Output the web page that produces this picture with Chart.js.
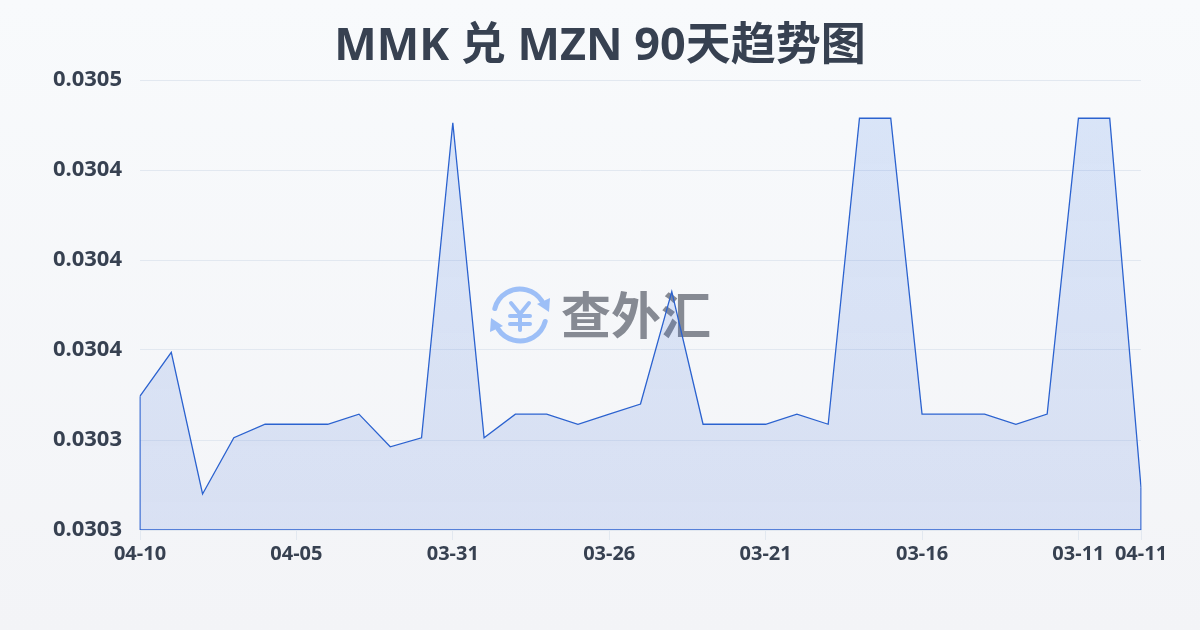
<!DOCTYPE html>
<html><head><meta charset="utf-8">
<style>
html,body{margin:0;padding:0;width:1200px;height:630px;overflow:hidden;background:linear-gradient(180deg,#f8fafc,#f3f4f7);}
canvas{display:block;}
</style>
<script src="https://cdn.jsdelivr.net/npm/chart.js@4/dist/chart.umd.js"></script>
</head><body>
<canvas id="c" width="1200" height="630"></canvas>
<script>
const titleText = 'MMK 兑 MZN 90天趋势图';
const watermarkText = '查外汇';
const categories = ['04-10','04-09','04-08','04-07','04-06','04-05','04-04','04-03','04-02','04-01','03-31','03-30','03-29','03-28','03-27','03-26','03-25','03-24','03-23','03-22','03-21','03-20','03-19','03-18','03-17','03-16','03-15','03-14','03-13','03-12','03-11','03-10','04-11'];
const rates = [0.0303395,0.030359,0.030296,0.030321,0.030327,0.030327,0.030327,0.0303315,0.030317,0.030321,0.030461,0.030321,0.0303315,0.0303315,0.030327,0.0303315,0.030336,0.030386,0.030327,0.030327,0.030327,0.0303315,0.030327,0.030463,0.030463,0.0303315,0.0303315,0.0303315,0.030327,0.0303315,0.030463,0.030463,0.030299];
const yMin = 0.03028, yMax = 0.03048, yStep = 0.00004;
const lineColor = '#2b62cf';
const textColor = '#374151';
const FONT = '"Noto Sans","Noto Sans CJK SC",sans-serif';

const last = rates.length - 1;
const outline = [
  {x:categories[last],y:rates[last]},
  {x:categories[last],y:yMin},
  {x:categories[0],y:yMin},
  {x:categories[0],y:rates[0]}
];

const watermark = {
  id:'watermark',
  beforeDatasetsDraw(chart){
    const g = chart.ctx, cx = 520, cy = 315, r = 26;
    g.save();
    g.strokeStyle = '#9dbff7'; g.fillStyle = '#9dbff7'; g.lineWidth = 5; g.lineCap = 'round';
    g.beginPath(); g.arc(cx,cy,r,Math.PI*1.08,Math.PI*1.82); g.stroke();
    g.beginPath(); g.arc(cx,cy,r,Math.PI*0.08,Math.PI*0.82); g.stroke();
    g.beginPath(); g.moveTo(550,298); g.lineTo(549,312); g.lineTo(537,304); g.closePath(); g.fill();
    g.beginPath(); g.moveTo(490,332); g.lineTo(491,318); g.lineTo(503,326); g.closePath(); g.fill();
    g.lineWidth = 4;
    g.beginPath(); g.moveTo(511,303); g.lineTo(520,314); g.lineTo(529,303);
    g.moveTo(510,316); g.lineTo(530,316); g.moveTo(510,324); g.lineTo(530,324);
    g.moveTo(520,314); g.lineTo(520,330); g.stroke();
    g.fillStyle = '#868a93';
    g.font = 'bold 50px "Noto Sans CJK SC"';
    g.textAlign = 'left'; g.textBaseline = 'middle';
    g.fillText(watermarkText, 561, 315);
    g.restore();
  }
};

new Chart(document.getElementById('c'),{
  type:'line',
  data:{labels:categories,datasets:[
    {data:rates,borderColor:lineColor,borderWidth:1.3,tension:0,pointRadius:0,fill:'start',
     backgroundColor(ctx){
       const a = ctx.chart.chartArea; if(!a) return 'rgba(59,113,225,0.16)';
       const gr = ctx.chart.ctx.createLinearGradient(0,a.top,0,a.bottom);
       gr.addColorStop(0,'rgba(59,120,235,0.16)');
       gr.addColorStop(1,'rgba(40,90,210,0.13)');
       return gr;
     }},
    {data:outline,borderColor:lineColor,borderWidth:1.3,tension:0,pointRadius:0,fill:false}
  ]},
  plugins:[watermark],
  options:{
    responsive:false,animation:false,
    plugins:{
      legend:{display:false},tooltip:{enabled:false},
      title:{display:true,text:titleText,color:textColor,font:{family:FONT,size:45,weight:'bold',lineHeight:1},padding:{top:25,bottom:10}}
    },
    scales:{
      x:{
        type:'category',
        afterBuildTicks(s){ s.ticks = s.ticks.filter(t=>{ const i=t.value; return i===last||(i%5===0&&i<=30); }); },
        afterFit(s){ s.height = 100; },
        grid:{drawOnChartArea:false,drawTicks:true,tickLength:10,tickColor:'#e2e8f0'},
        border:{display:false},
        ticks:{autoSkip:false,maxRotation:0,minRotation:0,padding:2,color:textColor,font:{family:FONT,size:20,weight:'bold'}}
      },
      y:{
        min:yMin,max:yMax,
        afterFit(s){ s.width = 140; },
        grid:{color:'#e2e8f0',lineWidth:1,drawTicks:false},
        border:{display:false},
        ticks:{stepSize:yStep,padding:18,color:textColor,font:{family:FONT,size:22,weight:'bold'},callback:v=>Number(v).toFixed(4)}
      },
      rightGutter:{
        axis:'y',position:'right',
        afterFit(s){ s.width = 59; },
        grid:{display:false},border:{display:false},ticks:{display:false}
      }
    }
  }
});
</script>
</body></html>
